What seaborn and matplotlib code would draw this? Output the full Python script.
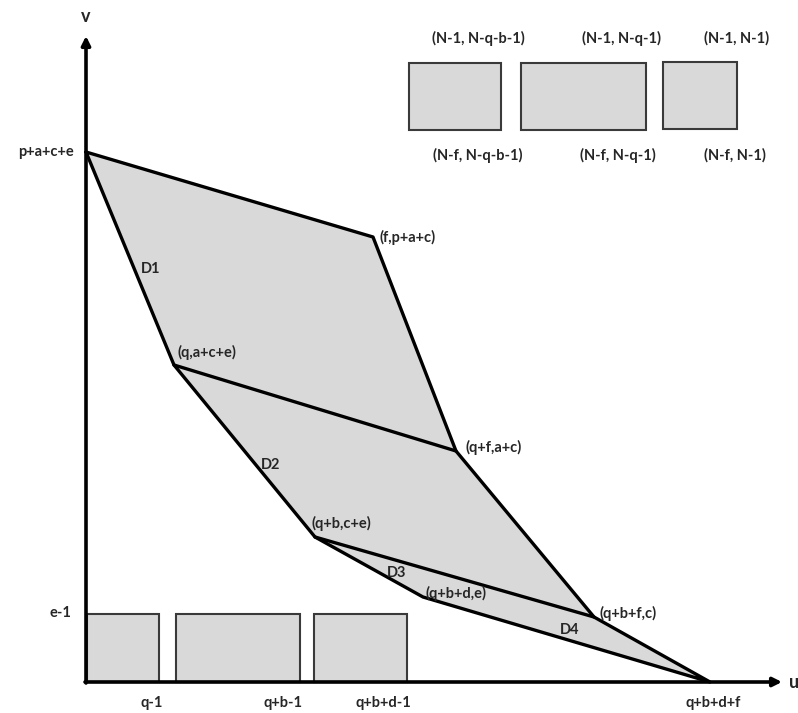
import matplotlib
matplotlib.use("Agg")
import matplotlib.pyplot as plt
import seaborn as sns
import pandas as pd

sns.set_style("white")
plt.rcParams['font.family'] = ['Lato', 'DejaVu Sans']

# ---- data (abstract diagram coordinates, u right, v up) ----
vert_names = ['P0', 'P1', 'P2', 'P3', 'P4', 'P5', 'P6', 'P7']
vert_u = [0, 287, 88, 370, 229, 337, 508, 624]
vert_v = [530, 445, 317, 231, 145, 85, 65, 0]
vert_labels = ['p+a+c+e', '(f,p+a+c)', '(q,a+c+e)', '(q+f,a+c)',
               '(q+b,c+e)', '(q+b+d,e)', '(q+b+f,c)', 'q+b+d+f']
label_u = [-12, 293, 92, 379, 226, 340, 514, 627]
label_v = [530, 445, 330, 235, 159, 89, 69, -21]

outline_order = ['P0', 'P1', 'P3', 'P6', 'P7', 'P5', 'P4', 'P2', 'P0']
inner_segments = [('P2', 'P3'), ('P4', 'P6')]

region_names = ['D1', 'D2', 'D3', 'D4']
region_u = [65, 185, 311, 484]
region_v = [413, 217, 109, 52]

# bottom boxes (along u axis), height e-1
low_box_u0 = [1, 90, 228]
low_box_u1 = [73, 214, 321]
low_box_v1 = 68
low_tick_labels = ['q-1', 'q+b-1', 'q+b+d-1']
low_tick_u = [66, 197, 297]

# upper-right boxes
up_box_u0 = [323, 435, 577]
up_box_u1 = [415, 560, 651]
up_box_v0 = [552, 552, 553]
up_box_v1 = [619, 619, 620]
up_top_labels = ['(N-1, N-q-b-1)', '(N-1, N-q-1)', '(N-1, N-1)']
up_top_u = [392, 536, 651]
up_bot_labels = ['(N-f, N-q-b-1)', '(N-f, N-q-1)', '(N-f, N-1)']
up_bot_u = [392, 532, 649]
up_top_v = 644
up_bot_v = 527

fill_col = '#d9d9d9'
fs = 10.5

fig = plt.figure(figsize=(7.98, 7.13), dpi=100)
ax = fig.add_axes([0, 0, 1, 1])
ax.set_xlim(-86, 712)
ax.set_ylim(-31, 682)
ax.axis('off')

pos = {n: (u, v) for n, u, v in zip(vert_names, vert_u, vert_v)}

# shaded region
ou = [pos[n][0] for n in outline_order]
ov = [pos[n][1] for n in outline_order]
ax.fill(ou, ov, color=fill_col, zorder=1)

# edges via seaborn
rows = []
for i, n in enumerate(outline_order):
    rows.append(dict(seg=0, order=i, u=pos[n][0], v=pos[n][1]))
for k, (a, b) in enumerate(inner_segments, start=1):
    rows.append(dict(seg=k, order=0, u=pos[a][0], v=pos[a][1]))
    rows.append(dict(seg=k, order=1, u=pos[b][0], v=pos[b][1]))
edges = pd.DataFrame(rows)
sns.lineplot(data=edges, x='u', y='v', units='seg', estimator=None, sort=False,
             color='black', lw=2.4, ax=ax, zorder=3, legend=False)

# boxes
for u0, u1 in zip(low_box_u0, low_box_u1):
    ax.fill([u0, u1, u1, u0, u0], [0, 0, low_box_v1, low_box_v1, 0],
            facecolor=fill_col, edgecolor='#3a3a3a', lw=1.5, zorder=2)
for u0, u1, v0, v1 in zip(up_box_u0, up_box_u1, up_box_v0, up_box_v1):
    ax.fill([u0, u1, u1, u0, u0], [v0, v0, v1, v1, v0],
            facecolor=fill_col, edgecolor='#3a3a3a', lw=1.5, zorder=2)

# axes arrows
arrow = dict(arrowstyle='-|>', lw=2.6, color='black', mutation_scale=13,
             shrinkA=0, shrinkB=0)
ax.annotate('', xy=(0, 646), xytext=(0, -1), arrowprops=arrow, zorder=4)
ax.annotate('', xy=(696, 0), xytext=(-1, 0), arrowprops=arrow, zorder=4)
ax.text(0, 665, 'v', ha='center', va='center', fontsize=13, fontweight='bold')
ax.text(708, 0, 'u', ha='center', va='center', fontsize=13, fontweight='bold')

# vertex labels
for i, (lab, lu, lv) in enumerate(zip(vert_labels, label_u, label_v)):
    if i == 0:
        ax.text(lu, lv, lab, ha='right', va='center', fontsize=fs, fontweight='bold')
    elif i == len(vert_labels) - 1:
        ax.text(lu, lv, lab, ha='center', va='center', fontsize=fs, fontweight='bold')
    else:
        ax.text(lu, lv, lab, ha='left', va='center', fontsize=fs, fontweight='bold', zorder=5)

for lab, lu, lv in zip(region_names, region_u, region_v):
    ax.text(lu, lv, lab, ha='center', va='center', fontsize=fs, fontweight='bold', zorder=5)

ax.text(-26, low_box_v1 + 1, 'e-1', ha='center', va='center', fontsize=fs, fontweight='bold')
for lab, lu in zip(low_tick_labels, low_tick_u):
    ax.text(lu, -21, lab, ha='center', va='center', fontsize=fs, fontweight='bold')

for lab, lu in zip(up_top_labels, up_top_u):
    ax.text(lu, up_top_v, lab, ha='center', va='center', fontsize=fs, fontweight='bold')
for lab, lu in zip(up_bot_labels, up_bot_u):
    ax.text(lu, up_bot_v, lab, ha='center', va='center', fontsize=fs, fontweight='bold')

fig.savefig('out.png', dpi=100)
